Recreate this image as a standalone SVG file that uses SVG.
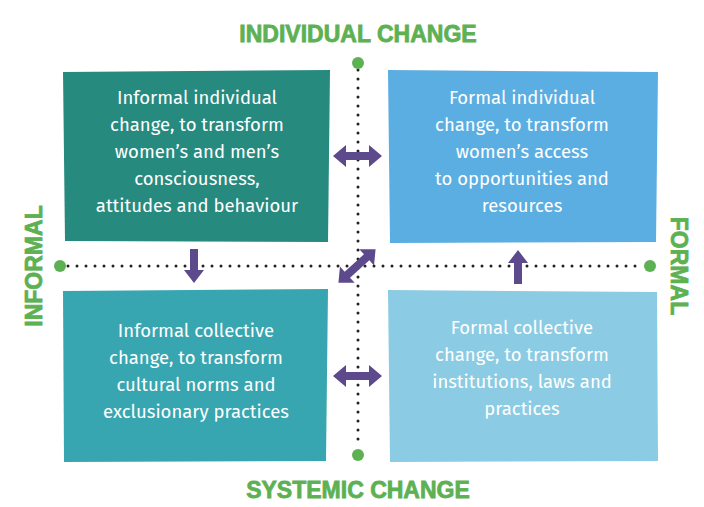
<svg xmlns="http://www.w3.org/2000/svg" width="704" height="507" viewBox="0 0 704 507">
<style>
.t{font-family:"Fira Sans","Open Sans","Liberation Sans",sans-serif;font-size:18.5px;fill:#fff;text-anchor:middle}
.h{font-family:"Liberation Sans",sans-serif;font-weight:bold;font-size:23px;fill:#5db153;text-anchor:middle;stroke:#5db153;stroke-width:0.8}
.d{stroke:#222;stroke-width:3;stroke-linecap:round;stroke-dasharray:0 9;fill:none}
.a{fill:#5d4a8c}
</style>
<rect width="704" height="507" fill="#fff"/>
<g id="connectors">
<line class="d" x1="358" y1="70" x2="358" y2="448"/>
<line class="d" x1="68" y1="266" x2="642" y2="266"/>
<circle cx="358" cy="63" r="6" fill="#5db153"/>
<circle cx="358" cy="455" r="6" fill="#5db153"/>
<circle cx="60" cy="266" r="6" fill="#5db153"/>
<circle cx="650" cy="266" r="6" fill="#5db153"/>
</g>
<g id="n-tl"><polygon points="63,72 330,70 328,242 65,241" fill="#278a7f"/>
<text class="t"><tspan x="197" y="104">Informal individual</tspan><tspan x="197" y="131">change, to transform</tspan><tspan x="197" y="158">women’s and men’s</tspan><tspan x="197" y="185">consciousness,</tspan><tspan x="197" y="212">attitudes and behaviour</tspan></text></g>
<g id="n-tr"><polygon points="388,70 658,72 656,242 390,243" fill="#5baee1"/>
<text class="t"><tspan x="522" y="104">Formal individual</tspan><tspan x="522" y="131">change, to transform</tspan><tspan x="522" y="158">women’s access</tspan><tspan x="522" y="185">to opportunities and</tspan><tspan x="522" y="212">resources</tspan></text></g>
<g id="n-bl"><polygon points="63,291 328,289 326,461 64,462" fill="#38a6b0"/>
<text class="t"><tspan x="196" y="337">Informal collective</tspan><tspan x="196" y="364">change, to transform</tspan><tspan x="196" y="391">cultural norms and</tspan><tspan x="196" y="418">exclusionary practices</tspan></text></g>
<g id="n-br"><polygon points="388,290 657,292 658,461 390,462" fill="#8bcbe3"/>
<text class="t"><tspan x="522" y="334">Formal collective</tspan><tspan x="522" y="361">change, to transform</tspan><tspan x="522" y="388">institutions, laws and</tspan><tspan x="522" y="415">practices</tspan></text></g>
<g id="labels">
<text class="h" x="358" y="42">INDIVIDUAL CHANGE</text>
<text class="h" x="358" y="498">SYSTEMIC CHANGE</text>
<text class="h" transform="translate(42,266) rotate(-90)">INFORMAL</text>
<text class="h" transform="translate(671,266) rotate(90)">FORMAL</text>
</g>
<g id="arrows">
<polygon class="a" points="333,156 346,145 346,152 369,152 369,145 382,156 369,167 369,160 346,160 346,167"/>
<polygon class="a" points="333,376 346,365 346,372 369,372 369,365 382,376 369,387 369,380 346,380 346,387"/>
<polygon class="a" points="190,249 198,249 198,270 204,270 194,283 184,270 190,270"/>
<polygon class="a" points="514,284 522,284 522,263 528,263 518,250 508,263 514,263"/>
<g transform="translate(357,266) rotate(-42)"><polygon class="a" points="-25,0 -13,-11 -13,-4 13,-4 13,-11 25,0 13,11 13,4 -13,4 -13,11"/></g>
</g>
</svg>
